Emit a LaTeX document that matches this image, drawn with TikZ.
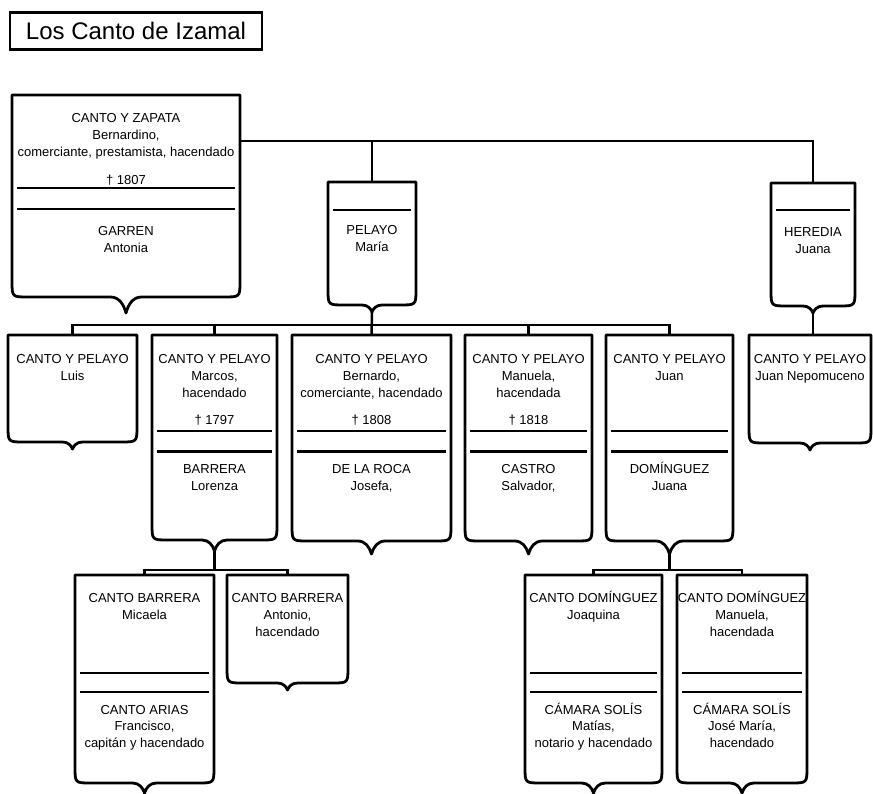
\documentclass[tikz,border=0pt]{standalone}
\usepackage{fontspec}
\setmainfont{Liberation Sans}
\usepackage{tikz}
\usetikzlibrary{positioning}

% shield box: name, left, right, top, base, tip
\newcommand{\escudo}[6]{%
  \pgfmathsetmacro\ecx{(#2+#3)/2}%
  \pgfmathsetmacro\ed{#6-#5}%
  \pgfmathsetmacro\ehw{6+0.6*\ed}%
  \node[frame, minimum width={(#3-#2)*1pt}, minimum height={(#5-#4)*1pt}, anchor=north west] (#1) at (#2,#4) {};
  \coordinate (#1-tip) at (\ecx,#6);
  \draw[shieldline] (#2,#4) -- ({#2},{#5-16}) .. controls (#2,#5) .. ({#2+16},#5)
    -- ({\ecx-\ehw},#5) .. controls ({\ecx-0.45*\ehw},#5) and ({\ecx-0.15*\ehw},{#5+0.45*\ed}) .. (#1-tip)
    .. controls ({\ecx+0.15*\ehw},{#5+0.45*\ed}) and ({\ecx+0.45*\ehw},#5) .. ({\ecx+\ehw},#5)
    -- ({#3-16},#5) .. controls (#3,#5) .. ({#3},{#5-16}) -- (#3,#4) -- cycle;
}
% marriage bar inside a box
\newcommand{\trazo}[2]{\draw[divider] ([xshift=5pt,yshift=-#2pt]#1.north west) -- ([xshift=-5pt,yshift=-#2pt]#1.north east);}
% fixed height for the first line of a label
\newcommand{\tope}{\rule[-4pt]{0pt}{17pt}}

\begin{document}
\begin{tikzpicture}[x=1pt, y=-1pt,
  frame/.style={rectangle, draw=none, inner sep=0pt, outer sep=0pt},
  shieldline/.style={line width=2.8pt, line join=round},
  divider/.style={line width=2.8pt},
  link/.style={line width=2.5pt},
  txt/.style={font=\fontsize{13}{16.7}\selectfont, align=center, inner sep=0pt},
  titlebox/.style={draw, line width=2.8pt, minimum width=252pt, minimum height=37pt, inner sep=0pt, font=\fontsize{24}{28}\selectfont}]
  \useasboundingbox (0,0) rectangle (873,794);

  % Title
  \node[titlebox] (title) at (136,31) {Los Canto de Izamal};

  % First generation
  \escudo{bernardino}{12}{240}{95}{297}{313}
  \node[txt, below=14.5pt of bernardino.north] (bernardino-name) {\tope CANTO Y ZAPATA\\Bernardino,\\comerciante, prestamista, hacendado};
  \node[txt, below=76pt of bernardino.north] (bernardino-d) {\tope † 1807};
  \trazo{bernardino}{93}
  \trazo{bernardino}{114}
  \node[txt, below=127.5pt of bernardino.north] (bernardino-sp) {\tope GARREN\\Antonia};

  \escudo{pelayo}{328}{416}{182}{305}{312}
  \trazo{pelayo}{28}
  \node[txt, below=39.5pt of pelayo.north] (pelayo-name) {\tope PELAYO\\María};

  \escudo{heredia}{771}{855}{183}{306}{313}
  \trazo{heredia}{27}
  \node[txt, below=40.5pt of heredia.north] (heredia-name) {\tope HEREDIA\\Juana};

  % Second generation
  \escudo{luis}{8}{137}{335}{442}{449}
  \node[txt, below=15.5pt of luis.north] (luis-name) {\tope CANTO Y PELAYO\\Luis};

  \escudo{marcos}{152}{277}{335}{540}{551}
  \node[txt, below=15.5pt of marcos.north] (marcos-name) {\tope CANTO Y PELAYO\\Marcos,\\hacendado};
  \node[txt, below=76.5pt of marcos.north] (marcos-d) {\tope † 1797};
  \trazo{marcos}{96}
  \trazo{marcos}{116.5}
  \node[txt, below=125.5pt of marcos.north] (marcos-sp) {\tope BARRERA\\Lorenza};

  \escudo{bernardo}{292}{451}{335}{541}{554}
  \node[txt, below=15.5pt of bernardo.north] (bernardo-name) {\tope CANTO Y PELAYO\\Bernardo,\\comerciante, hacendado};
  \node[txt, below=76.5pt of bernardo.north] (bernardo-d) {\tope † 1808};
  \trazo{bernardo}{96}
  \trazo{bernardo}{116.5}
  \node[txt, below=125.5pt of bernardo.north] (bernardo-sp) {\tope DE LA ROCA\\Josefa,};

  \escudo{manuela}{465}{592}{335}{541}{554}
  \node[txt, below=15.5pt of manuela.north] (manuela-name) {\tope CANTO Y PELAYO\\Manuela,\\hacendada};
  \node[txt, below=76.5pt of manuela.north] (manuela-d) {\tope † 1818};
  \trazo{manuela}{96}
  \trazo{manuela}{116.5}
  \node[txt, below=125.5pt of manuela.north] (manuela-sp) {\tope CASTRO\\Salvador,};

  \escudo{juan}{606}{733}{335}{541}{554}
  \node[txt, below=15.5pt of juan.north] (juan-name) {\tope CANTO Y PELAYO\\Juan};
  \trazo{juan}{96}
  \trazo{juan}{116.5}
  \node[txt, below=125.5pt of juan.north] (juan-sp) {\tope DOMÍNGUEZ\\Juana};

  \escudo{nepomuceno}{749}{871}{335}{443}{450}
  \node[txt, below=15.5pt of nepomuceno.north] (nepomuceno-name) {\tope CANTO Y PELAYO\\Juan Nepomuceno};

  % Third generation
  \escudo{micaela}{75}{214}{575}{783}{793}
  \node[txt, below=14.5pt of micaela.north] (micaela-name) {\tope CANTO BARRERA\\Micaela};
  \trazo{micaela}{98}
  \trazo{micaela}{117}
  \node[txt, below=126pt of micaela.north] (micaela-sp) {\tope CANTO ARIAS\\Francisco,\\capitán y hacendado};

  \escudo{antonio}{227}{348}{575}{683}{690}
  \node[txt, below=14.5pt of antonio.north] (antonio-name) {\tope CANTO BARRERA\\Antonio,\\hacendado};

  \escudo{joaquina}{525}{662}{575}{783}{793}
  \node[txt, below=14.5pt of joaquina.north] (joaquina-name) {\tope CANTO DOMÍNGUEZ\\Joaquina};
  \trazo{joaquina}{98}
  \trazo{joaquina}{117}
  \node[txt, below=126pt of joaquina.north] (joaquina-sp) {\tope CÁMARA SOLÍS\\Matías,\\notario y hacendado};

  \escudo{manuelacd}{677}{807}{575}{783}{793}
  \node[txt, below=14.5pt of manuelacd.north] (manuelacd-name) {\tope CANTO DOMÍNGUEZ\\Manuela,\\hacendada};
  \trazo{manuelacd}{98}
  \trazo{manuelacd}{117}
  \node[txt, below=126pt of manuelacd.north] (manuelacd-sp) {\tope CÁMARA SOLÍS\\José María,\\hacendado};

  % Marriages of Bernardino
  \coordinate (wed) at (240,141);
  \draw[link] (wed) -| (heredia.north);
  \draw[link] (wed -| pelayo.north) -- (pelayo.north);

  % Children of Pelayo
  \coordinate (kids1) at (372,325);
  \draw[link] (pelayo-tip) -- (bernardo.north);
  \draw[link] (luis.north) |- (kids1) -| (juan.north);
  \foreach \k in {marcos,manuela}
    \draw[link] (\k.north) -- (\k.north |- kids1);

  % Child of Heredia
  \draw[link] (heredia-tip) -- (heredia-tip |- nepomuceno.north);

  % Children of Marcos
  \coordinate (kids2) at (214.5,570);
  \draw[link] (marcos-tip) -- (kids2);
  \draw[link] (micaela.north) |- (kids2) -| (antonio.north);

  % Children of Juan
  \coordinate (kids3) at (669.5,570);
  \draw[link] (juan-tip) -- (kids3);
  \draw[link] (joaquina.north) |- (kids3) -| (manuelacd.north);
\end{tikzpicture}
\end{document}
